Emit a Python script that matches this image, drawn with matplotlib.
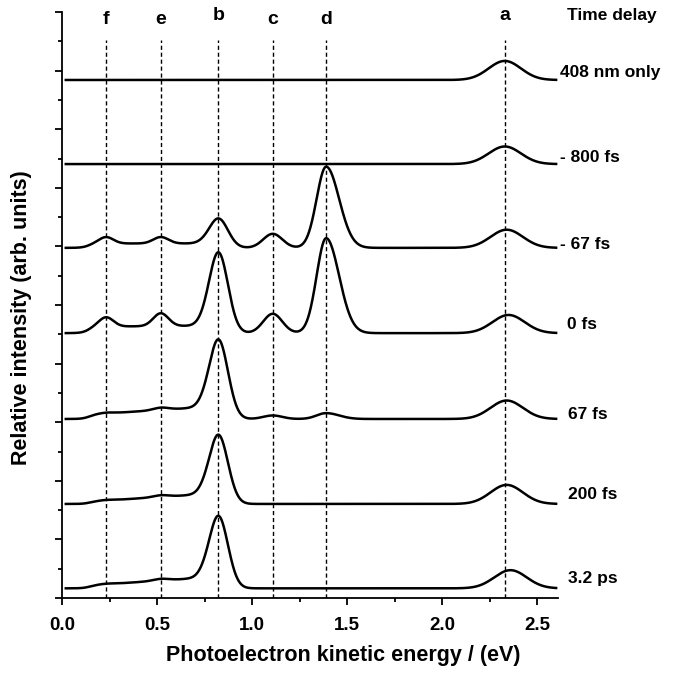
"""
Time-resolved photoelectron spectra, stacked by pump-probe delay
"""

import numpy as np
import matplotlib
matplotlib.use('Agg')
import matplotlib.pyplot as plt
from matplotlib.ticker import MultipleLocator, FormatStrFormatter

plt.rcParams['font.family'] = ['Liberation Sans', 'DejaVu Sans']
plt.rcParams['font.weight'] = 'bold'

# --- data -----------------------------------------------------------------
delays = ["408 nm only", "- 800 fs", "- 67 fs", "0 fs", "67 fs", "200 fs", "3.2 ps"]
baselines = [17.68, 14.81, 11.95, 9.04, 6.11, 3.21, 0.33]

peak_names = ["f", "e", "b", "c", "d", "a"]
peak_centers = [0.232, 0.52, 0.823, 1.109, 1.39, 2.33]
sigma_left = [0.038, 0.04, 0.05, 0.05, 0.05, 0.085]
sigma_right = [0.038, 0.04, 0.05, 0.05, 0.068, 0.085]

# peak heights per trace (rows follow `delays`)
heights_f = [0.0, 0.0, 0.22, 0.32, 0.03, 0.02, 0.02]
heights_e = [0.0, 0.0, 0.22, 0.44, 0.08, 0.06, 0.06]
heights_b = [0.0, 0.0, 1.00, 2.75, 2.70, 2.35, 2.46]
heights_c = [0.0, 0.0, 0.48, 0.66, 0.12, 0.0, 0.0]
heights_d = [0.0, 0.0, 2.77, 3.24, 0.20, 0.0, 0.0]
heights_a = [0.65, 0.60, 0.62, 0.62, 0.63, 0.65, 0.62]
a_centers = [2.33, 2.33, 2.34, 2.35, 2.34, 2.34, 2.36]

# low-energy shelf under the f/e/b region (height at onset, height before b)
shelf_start = [0.0, 0.0, 0.15, 0.22, 0.15, 0.08, 0.10]
shelf_end = [0.0, 0.0, 0.15, 0.25, 0.40, 0.33, 0.36]

energy_range = (0.02, 2.6)

# label layout
label_x = [2.62, 2.62, 2.62, 2.655, 2.66, 2.665, 2.665]
label_y = [17.95, 15.02, 12.08, 9.32, 6.25, 3.52, 0.68]


def asym_gauss(E, c, h, sl, sr):
    """Gaussian with different widths on each side"""
    s = np.where(E < c, sl, sr)
    return h * np.exp(-0.5 * ((E - c) / s) ** 2)


def build_trace(i, E):
    """Sum the peaks and shelf for trace i"""
    heights = [heights_f[i], heights_e[i], heights_b[i],
               heights_c[i], heights_d[i], heights_a[i]]
    centers = list(peak_centers)
    centers[-1] = a_centers[i]

    y = np.zeros_like(E)
    for c, h, sl, sr in zip(centers, heights, sigma_left, sigma_right):
        y += asym_gauss(E, c, h, sl, sr)

    # shelf: rises near 0.14 eV, slopes up, cut off under peak b
    onset = 1 / (1 + np.exp(-(E - 0.14) / 0.02))
    cutoff = 1 / (1 + np.exp((E - 0.76) / 0.02))
    ramp = shelf_start[i] + (shelf_end[i] - shelf_start[i]) * (E - 0.14) / 0.6
    y += np.clip(ramp, 0, None) * onset * cutoff
    return baselines[i] + y


def main():
    fig = plt.figure(figsize=(6.82, 6.75), dpi=100)
    ax = fig.add_axes([62 / 682, 1 - 598 / 675, 496 / 682, 586 / 675])

    E = np.linspace(*energy_range, 1500)
    for i in range(len(delays)):
        ax.plot(E, build_trace(i, E), color='black', lw=1.8)
        ax.text(label_x[i], label_y[i], delays[i], fontsize=12.5, fontweight='bold',
                va='center', ha='left', clip_on=False)

    # dashed guide lines + peak letters
    for name, c in zip(peak_names, peak_centers):
        ax.plot([c, c], [0, 19.05], color='black', lw=1.0, linestyle=(0, (3, 2)))
        y_txt = 19.72 if name in ('b', 'a') else 19.58
        ax.text(c, y_txt, name, fontsize=14, fontweight='bold', ha='center', va='baseline')
    ax.text(2.655, 19.72, "Time delay", fontsize=12.5, fontweight='bold',
            ha='left', va='baseline', clip_on=False)

    ax.set_xlim(0, 2.61)
    ax.set_ylim(0, 20)

    for side in ('top', 'right'):
        ax.spines[side].set_visible(False)
    for side in ('left', 'bottom'):
        ax.spines[side].set_linewidth(1.3)

    ax.xaxis.set_major_locator(MultipleLocator(0.5))
    ax.xaxis.set_minor_locator(MultipleLocator(0.25))
    ax.yaxis.set_major_locator(MultipleLocator(2))
    ax.yaxis.set_minor_locator(MultipleLocator(1))
    ax.set_yticklabels([])
    ax.xaxis.set_major_formatter(FormatStrFormatter('%.1f'))

    ax.tick_params(axis='both', which='major', direction='out', length=5, width=1.3)
    ax.tick_params(axis='both', which='minor', direction='out', length=3, width=1.3)
    ax.tick_params(axis='x', which='major', labelsize=13.5, pad=9)
    for lbl in ax.get_xticklabels():
        lbl.set_fontweight('bold')

    fig.text(343 / 682, 1 - 655 / 675, "Photoelectron kinetic energy / (eV)",
             fontsize=15.5, fontweight='bold', ha='center', va='center')
    fig.text(22 / 682, 1 - 318 / 675, "Relative intensity (arb. units)",
             fontsize=15.5, fontweight='bold', ha='center', va='center', rotation=90)

    fig.savefig('out.png', dpi=100)


if __name__ == "__main__":
    main()
